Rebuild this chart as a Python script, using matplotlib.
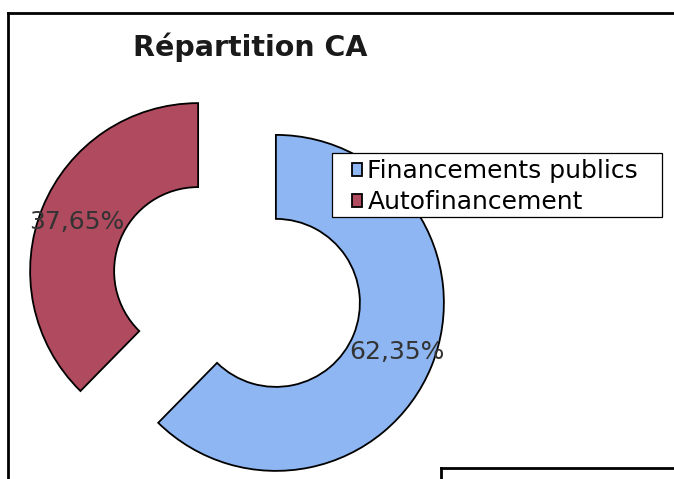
import matplotlib
matplotlib.use('Agg')
import matplotlib.pyplot as plt
from matplotlib.lines import Line2D
from matplotlib.patches import Rectangle

# data
labels = ['Financements publics', 'Autofinancement']
shares = [62.35, 37.65]
colors = ['#8DB6F2', '#B04A5E']

W, H = 674, 479
R = 168  # outer radius in pixels

fig = plt.figure(figsize=(W / 100, H / 100), dpi=100)
ax = fig.add_axes([0, 0, 1, 1])

# pie explode is in data units, so scale by the radius
wedges, texts, autotexts = ax.pie(
    shares,
    colors=colors,
    startangle=90,
    counterclock=False,
    center=(237, 192),
    radius=R,
    explode=[0.25 * R, 0.25 * R],
    autopct=lambda p: f'{p:.2f}%'.replace('.', ','),
    pctdistance=0.78,
    wedgeprops=dict(width=0.5 * R, edgecolor='black', linewidth=1.3),
    textprops=dict(fontsize=18, color='#333333'),
    frame=True,
)
ax.set_xlim(0, W)
ax.set_ylim(0, H)
ax.set_aspect('equal')
ax.axis('off')

# labels are cut by the ring edges in the original
for w, t in zip(wedges, autotexts):
    t.set_clip_path(w)

fig.text(250 / W, 1 - 47 / H, 'Répartition CA', ha='center', va='center',
         fontsize=20.5, fontweight='bold', color='#1a1a1a')

leg = ax.legend(wedges, labels, loc='upper left',
                bbox_to_anchor=(347 / W, 1 - 154 / H),
                bbox_transform=fig.transFigure,
                fontsize=18, frameon=False, borderaxespad=0,
                borderpad=0.2, handlelength=0.42, handleheight=0.42,
                handletextpad=0.2, labelspacing=0.28)
leg.set_zorder(6)

# legend box, drawn apart so the left padding can be wider than the top
box = Rectangle((332 / W, 1 - 217 / H), 330 / W, 64 / H,
                transform=fig.transFigure, facecolor='white',
                edgecolor='black', lw=0.9, zorder=5)
ax.add_patch(box)

# chart frame and the edge of the next box in the scan
fig.add_artist(Line2D([8 / W, 8 / W], [0, 1 - 13 / H], color='black', lw=2))
fig.add_artist(Line2D([8 / W, 1], [1 - 13 / H, 1 - 13 / H], color='black', lw=2))
fig.add_artist(Line2D([441 / W, 441 / W], [0, 1 - 468 / H], color='black', lw=2))
fig.add_artist(Line2D([441 / W, 1], [1 - 468 / H, 1 - 468 / H], color='black', lw=2))

fig.savefig('out.png', dpi=100)
